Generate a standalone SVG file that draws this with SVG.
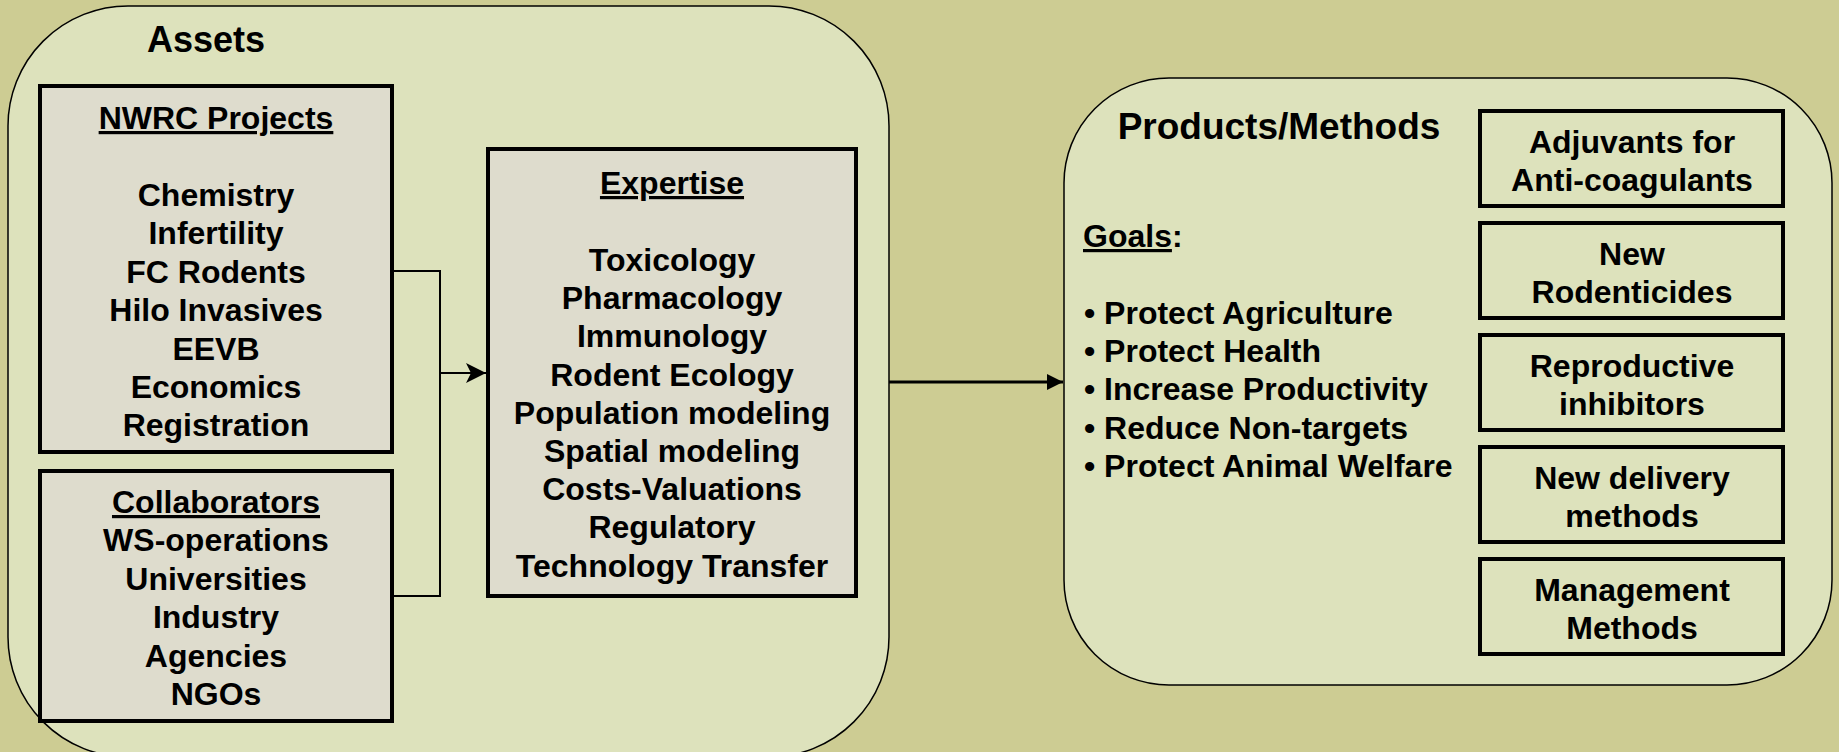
<svg xmlns="http://www.w3.org/2000/svg" width="1839" height="752" viewBox="0 0 1839 752">
<defs>
<style>
text{font-family:"Liberation Sans",Arial,sans-serif;font-weight:bold;fill:#000;}
.t{font-size:32px;text-anchor:middle;}
.h{font-size:36px;}
.h2{font-size:37px;}
.u{text-decoration:underline;}
.g{font-size:32px;}
.panel{fill:#DDE2BC;stroke:#000;stroke-width:1.5;}
.box{fill:#DEDCCD;stroke:#000;stroke-width:4;}
.pbox{fill:#DDE2BC;stroke:#000;stroke-width:4;}
.conn{fill:none;stroke:#000;stroke-width:2;}
</style>
<marker id="stealth" viewBox="0 0 20 20" refX="20" refY="10" markerWidth="20" markerHeight="20" markerUnits="userSpaceOnUse" orient="auto">
<path d="M0,0 L20,10 L0,20 L5,10 Z" fill="#000"/>
</marker>
<marker id="tri" viewBox="0 0 16 16" refX="16" refY="8" markerWidth="16" markerHeight="16" markerUnits="userSpaceOnUse" orient="auto">
<path d="M0,0 L16,8 L0,16 Z" fill="#000"/>
</marker>
</defs>
<rect x="0" y="0" width="1839" height="752" fill="#CDCC93"/>

<g id="assets">
<rect class="panel" x="8" y="6" width="881" height="751" rx="120" ry="120"/>
<text class="h" x="147" y="52">Assets</text>
</g>

<g id="nwrc-projects">
<rect class="box" x="40" y="86" width="352" height="366"/>
<text class="t u" x="216" y="129">NWRC Projects</text>
<text class="t" x="216" y="206">Chemistry</text>
<text class="t" x="216" y="244.4">Infertility</text>
<text class="t" x="216" y="282.8">FC Rodents</text>
<text class="t" x="216" y="321.2">Hilo Invasives</text>
<text class="t" x="216" y="359.6">EEVB</text>
<text class="t" x="216" y="398">Economics</text>
<text class="t" x="216" y="436.4">Registration</text>
</g>

<g id="collaborators">
<rect class="box" x="40" y="471" width="352" height="250"/>
<text class="t u" x="216" y="513">Collaborators</text>
<text class="t" x="216" y="551.4">WS-operations</text>
<text class="t" x="216" y="589.8">Universities</text>
<text class="t" x="216" y="628.2">Industry</text>
<text class="t" x="216" y="666.6">Agencies</text>
<text class="t" x="216" y="705">NGOs</text>
</g>

<g id="expertise">
<rect class="box" x="488" y="149" width="368" height="447"/>
<text class="t u" x="672" y="194">Expertise</text>
<text class="t" x="672" y="271">Toxicology</text>
<text class="t" x="672" y="309.2">Pharmacology</text>
<text class="t" x="672" y="347.4">Immunology</text>
<text class="t" x="672" y="385.6">Rodent Ecology</text>
<text class="t" x="672" y="423.8">Population modeling</text>
<text class="t" x="672" y="462">Spatial modeling</text>
<text class="t" x="672" y="500.2">Costs-Valuations</text>
<text class="t" x="672" y="538.4">Regulatory</text>
<text class="t" x="672" y="576.6">Technology Transfer</text>
</g>

<g id="products-methods">
<rect class="panel" x="1064" y="78" width="768" height="607" rx="105" ry="105"/>
<text class="h2" x="1279" y="139" text-anchor="middle">Products/Methods</text>
<text class="g" x="1083" y="247"><tspan class="u">Goals</tspan>:</text>
<text class="g" x="1084" y="324">• Protect Agriculture</text>
<text class="g" x="1084" y="362.2">• Protect Health</text>
<text class="g" x="1084" y="400.4">• Increase Productivity</text>
<text class="g" x="1084" y="438.6">• Reduce Non-targets</text>
<text class="g" x="1084" y="476.8">• Protect Animal Welfare</text>
</g>

<g id="adjuvants">
<rect class="pbox" x="1480" y="111" width="303" height="95"/>
<text class="t" x="1632" y="153">Adjuvants for</text>
<text class="t" x="1632" y="190.5">Anti-coagulants</text>
</g>
<g id="new-rodenticides">
<rect class="pbox" x="1480" y="223" width="303" height="95"/>
<text class="t" x="1632" y="265">New</text>
<text class="t" x="1632" y="302.5">Rodenticides</text>
</g>
<g id="reproductive-inhibitors">
<rect class="pbox" x="1480" y="335" width="303" height="95"/>
<text class="t" x="1632" y="377">Reproductive</text>
<text class="t" x="1632" y="414.5">inhibitors</text>
</g>
<g id="new-delivery">
<rect class="pbox" x="1480" y="447" width="303" height="95"/>
<text class="t" x="1632" y="489">New delivery</text>
<text class="t" x="1632" y="526.5">methods</text>
</g>
<g id="management-methods">
<rect class="pbox" x="1480" y="559" width="303" height="95"/>
<text class="t" x="1632" y="601">Management</text>
<text class="t" x="1632" y="638.5">Methods</text>
</g>

<g id="connectors">
<polyline class="conn" points="392,271 440,271 440,596 392,596"/>
<line class="conn" x1="440" y1="373" x2="486" y2="373" marker-end="url(#stealth)"/>
<line x1="889" y1="382" x2="1063" y2="382" stroke="#000" stroke-width="3" marker-end="url(#tri)"/>
</g>
</svg>
